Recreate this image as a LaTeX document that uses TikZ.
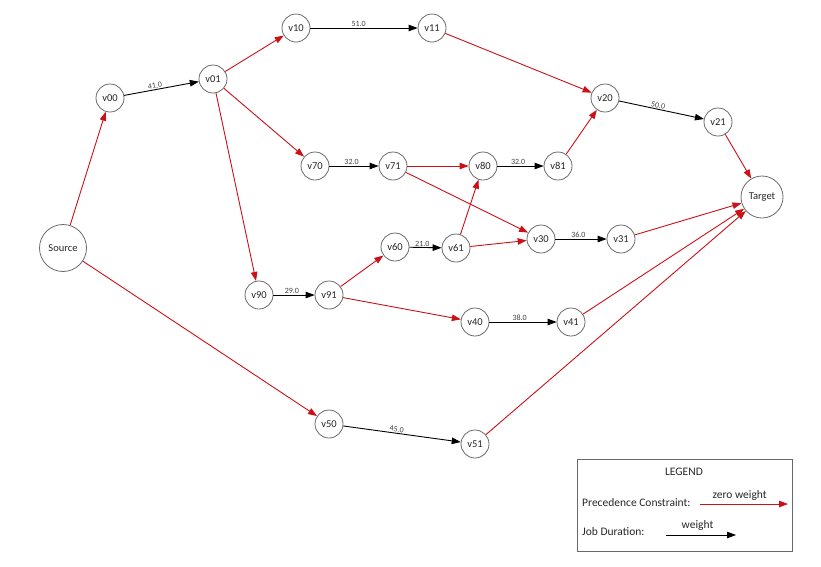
\documentclass[tikz,border=0pt]{standalone}
\usepackage{fontspec}
\setmainfont{Carlito}
\usetikzlibrary{arrows.meta}
\definecolor{cred}{RGB}{204,16,24}
\definecolor{cgray}{RGB}{105,105,105}
\begin{document}
\begin{tikzpicture}[x=1pt,y=-1pt,
  vert/.style={circle,draw=cgray,line width=0.8pt,minimum size=28pt,inner sep=0pt,font=\fontsize{10.5}{11}\selectfont,text=black!85},
  bigvert/.style={vert,minimum size=47pt},
  tgtvert/.style={vert,minimum size=42pt},
  prec/.style={draw=cred,line width=0.9pt,-{Triangle[length=9pt,width=6.5pt]}},
  dur/.style={draw=black,line width=0.9pt,-{Triangle[length=9pt,width=6.5pt]}},
  wlab/.style={font=\fontsize{8}{8}\selectfont,above,sloped,inner sep=0.8pt,text=black!75},
  legtext/.style={font=\fontsize{11.5}{13}\selectfont,text=black!85,inner sep=0pt}
]
\useasboundingbox (0,0) rectangle (821,566);
% nodes
\node[bigvert] (src) at (63,248) {Source};
\node[vert] (v00) at (110,98) {v00};
\node[vert] (v01) at (213,79) {v01};
\node[vert] (v10) at (296,28) {v10};
\node[vert] (v11) at (432,28) {v11};
\node[vert] (v20) at (605,98) {v20};
\node[vert] (v21) at (718,122) {v21};
\node[tgtvert] (tgt) at (762,197) {Target};
\node[vert] (v70) at (315,166) {v70};
\node[vert] (v71) at (393,166) {v71};
\node[vert] (v80) at (483,166) {v80};
\node[vert] (v81) at (558,166) {v81};
\node[vert] (v60) at (395,247) {v60};
\node[vert] (v61) at (456,248) {v61};
\node[vert] (v30) at (541,239) {v30};
\node[vert] (v31) at (621,239) {v31};
\node[vert] (v90) at (259,295) {v90};
\node[vert] (v91) at (329,295) {v91};
\node[vert] (v40) at (475,322) {v40};
\node[vert] (v41) at (571,322) {v41};
\node[vert] (v50) at (329,424) {v50};
\node[vert] (v51) at (475,444) {v51};
% precedence edges
\draw[prec] (src) -- (v00);
\draw[prec] (src) -- (v50);
\draw[prec] (v01) -- (v10);
\draw[prec] (v01) -- (v70);
\draw[prec] (v01) -- (v90);
\draw[prec] (v11) -- (v20);
\draw[prec] (v71) -- (v80);
\draw[prec] (v71) -- (v30);
\draw[prec] (v61) -- (v80);
\draw[prec] (v61) -- (v30);
\draw[prec] (v81) -- (v20);
\draw[prec] (v91) -- (v60);
\draw[prec] (v91) -- (v40);
\draw[prec] (v21) -- (tgt);
\draw[prec] (v31) -- (tgt);
\draw[prec] (v41) -- (tgt);
\draw[prec] (v51) -- (tgt);
% duration edges
\draw[dur] (v00) -- node[wlab,pos=0.42] {41.0} (v01);
\draw[dur] (v10) -- node[wlab,pos=0.45] {51.0} (v11);
\draw[dur] (v20) -- node[wlab,pos=0.45] {50.0} (v21);
\draw[dur] (v70) -- node[wlab,pos=0.45] {32.0} (v71);
\draw[dur] (v80) -- node[wlab,pos=0.45] {32.0} (v81);
\draw[dur] (v60) -- node[wlab,pos=0.4] {21.0} (v61);
\draw[dur] (v30) -- node[wlab,pos=0.45] {36.0} (v31);
\draw[dur] (v90) -- node[wlab,pos=0.45] {29.0} (v91);
\draw[dur] (v40) -- node[wlab,pos=0.45] {38.0} (v41);
\draw[dur] (v50) -- node[wlab,pos=0.45] {45.0} (v51);
% legend
\node[draw=cgray,line width=0.8pt,minimum width=215pt,minimum height=92pt,inner sep=0pt] (leg) at (684.5,505) {};
\node[legtext] (legt) at (684,472) {LEGEND};
\node[legtext,anchor=west] (pc) at (582,503) {Precedence Constraint:};
\node[legtext,anchor=west] (jd) at (582,532) {Job Duration:};
\coordinate (r1) at (700,504);
\coordinate (r2) at (788,504);
\coordinate (b1) at (666,535);
\coordinate (b2) at (736,535);
\draw[prec] (r1) -- node[legtext,above=3pt,pos=0.45] {zero weight} (r2);
\draw[dur] (b1) -- node[legtext,above=4pt,pos=0.45] {weight} (b2);
\end{tikzpicture}
\end{document}
